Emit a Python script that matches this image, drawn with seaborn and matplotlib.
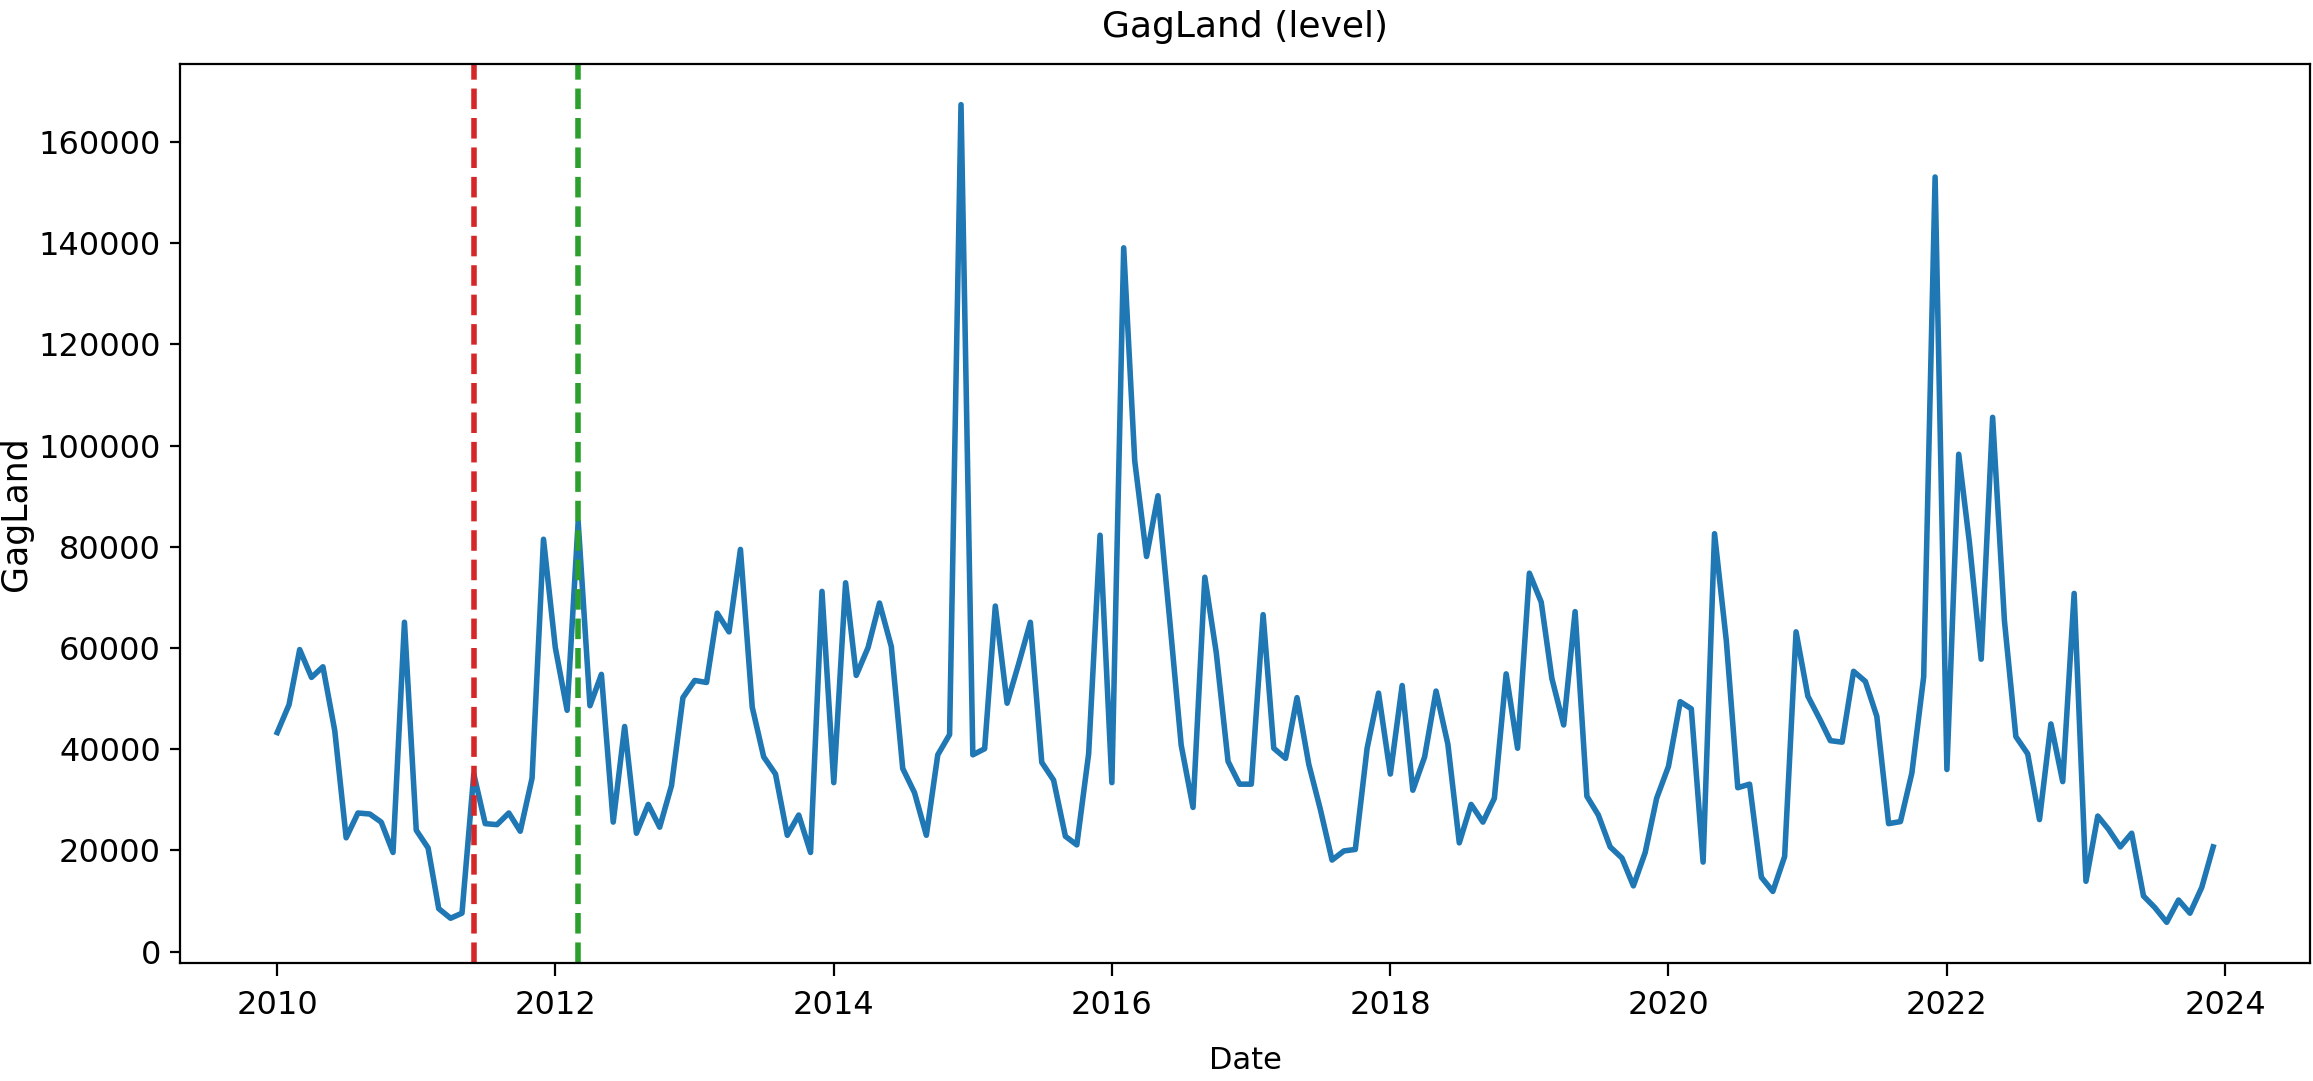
import matplotlib
matplotlib.use("Agg")
import matplotlib.pyplot as plt
import pandas as pd
import seaborn as sns

# monthly values, Jan 2010 .. Dec 2023
start_month = "2010-01-01"
n_months = 168
gagland = [
    # 2010
    43300, 48800, 59700, 54200, 56300, 43700, 22500, 27400, 27200, 25600, 19600, 65100,
    # 2011
    24000, 20500, 8500, 6600, 7600, 35100, 25300, 25100, 27400, 23800, 34300, 81500,
    # 2012
    60100, 47700, 85000, 48600, 54800, 25600, 44500, 23400, 29100, 24600, 32800, 50200,
    # 2013
    53600, 53200, 66900, 63200, 79500, 48300, 38500, 35100, 23000, 27000, 19600, 71200,
    # 2014
    33400, 72900, 54600, 60100, 68900, 60300, 36200, 31400, 23000, 38900, 42900, 167400,
    # 2015
    38900, 40100, 68300, 49100, 56800, 65100, 37400, 33900, 22800, 21100, 39100, 82300,
    # 2016
    33400, 139100, 97000, 78100, 90100, 65400, 40800, 28500, 74000, 59100, 37600, 33100,
    # 2017
    33100, 66600, 40200, 38200, 50200, 37000, 28200, 18100, 19900, 20200, 40200, 51100,
    # 2018
    35100, 52600, 31900, 38500, 51500, 41000, 21500, 29100, 25600, 30300, 54900, 40200,
    # 2019
    74800, 69100, 54000, 44800, 67200, 30700, 27000, 20700, 18500, 13000, 19600, 30300,
    # 2020
    36600, 49400, 48000, 17700, 82600, 61400, 32400, 33100, 14700, 11900, 18800, 63200,
    # 2021
    50500, 46000, 41700, 41400, 55400, 53400, 46500, 25300, 25700, 35300, 54300, 153100,
    # 2022
    36000, 98300, 80900, 57800, 105600, 65400, 42500, 39100, 26100, 45000, 33600, 70800,
    # 2023
    13900, 26800, 24200, 20700, 23400, 11000, 8700, 5800, 10200, 7600, 12700, 20700,
]
marker_dates = ["2011-06-01", "2012-03-01"]
marker_colors = ["tab:red", "tab:green"]

df = pd.DataFrame({
    "Date": pd.date_range(start_month, periods=n_months, freq="MS"),
    "GagLand": gagland,
})

fig, ax = plt.subplots(figsize=(11.565, 5.405), dpi=200)
sns.lineplot(data=df, x="Date", y="GagLand", ax=ax, color="tab:blue", linewidth=2.0)

for d, c in zip(marker_dates, marker_colors):
    ax.axvline(pd.Timestamp(d), color=c, linestyle="--", linewidth=2.0)

ax.set_title("GagLand (level)", fontsize=13, pad=9.5)
ax.set_xlabel("Date", fontsize=11)
ax.set_ylabel("GagLand", fontsize=12.5)
ax.tick_params(axis="both", labelsize=11.5)
ax.tick_params(axis="x", length=4.7, pad=5)
ax.xaxis.set_label_coords(0.5, -0.092)
ax.yaxis.set_label_coords(-0.069, 0.5)

fig.subplots_adjust(left=0.078, right=0.9987, top=0.941, bottom=0.109)
fig.savefig("out.png", dpi=200)
plt.close(fig)
